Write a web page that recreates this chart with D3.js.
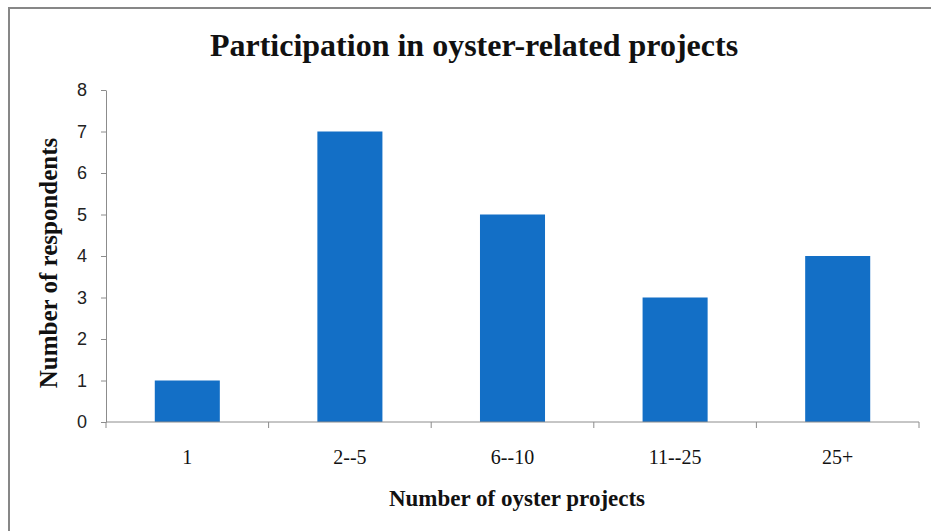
<!DOCTYPE html>
<html>
<head>
<meta charset="utf-8">
<script src="https://cdn.jsdelivr.net/npm/d3@7"></script>
<style>
  body { margin: 0; background: #fff; }
  svg { display: block; }
</style>
</head>
<body>
<div id="chart"></div>
<script>
// values
const categories = ['1', '2--5', '6--10', '11--25', '25+']
const respondents = [1, 7, 5, 3, 4]
const yTicks = [0, 1, 2, 3, 4, 5, 6, 7, 8]

let width = 931
let height = 531
let margin = {top: 90, right: 12, bottom: 109, left: 106}
const serif = '"Liberation Serif", "DejaVu Serif", serif'

const svg = d3.select('#chart').append('svg')
  .attr('width', width)
  .attr('height', height)

// outer frame (only top + left visible in the crop)
svg.append('path')
  .attr('d', `M9,${height + 5}V8H${width + 5}`)
  .attr('fill', 'none')
  .attr('stroke', '#878787')
  .attr('stroke-width', 2)

const x = d3.scaleBand()
  .domain(categories)
  .range([margin.left, width - margin.right])
  .paddingInner(0.6)
  .paddingOuter(0.3)

const y = d3.scaleLinear()
  .domain([0, 8])
  .range([height - margin.bottom, margin.top])

// bars
svg.append('g')
  .selectAll('rect')
  .data(respondents)
  .join('rect')
  .attr('x', (d, i) => x(categories[i]))
  .attr('y', d => y(d))
  .attr('width', x.bandwidth())
  .attr('height', d => y(0) - y(d))
  .attr('fill', '#136fc6')

// y axis
const yAxis = svg.append('g')
  .attr('transform', `translate(${margin.left},0)`)
  .call(d3.axisLeft(y).tickValues(yTicks).tickSize(5).tickSizeOuter(0).tickPadding(14))
yAxis.select('.domain').attr('stroke', '#8c8c8c')
yAxis.selectAll('.tick line').attr('stroke', '#8c8c8c')
yAxis.selectAll('.tick text')
  .attr('fill', '#222')
  .attr('font-family', '"Liberation Sans", Arial, sans-serif')
  .attr('font-size', 18)

// x axis, ticks on category boundaries like Excel
const xAxis = svg.append('g')
  .attr('transform', `translate(0,${y(0)})`)
  .call(d3.axisBottom(x).tickSize(0).tickPadding(28))
xAxis.select('.domain').remove()
xAxis.append('line')
  .attr('x1', margin.left).attr('x2', width - margin.right)
  .attr('stroke', '#8c8c8c')
const bounds = d3.range(categories.length + 1).map(i => margin.left + i * (width - margin.right - margin.left) / categories.length)
xAxis.selectAll('.bound')
  .data(bounds)
  .join('line')
  .attr('class', 'bound')
  .attr('x1', d => d).attr('x2', d => d)
  .attr('y1', 0).attr('y2', 6)
  .attr('stroke', '#8c8c8c')
xAxis.selectAll('.tick text')
  .attr('fill', '#111')
  .attr('font-family', serif)
  .attr('font-size', 20)

// titles
svg.append('text')
  .attr('x', 474)
  .attr('y', 56)
  .attr('text-anchor', 'middle')
  .attr('font-family', serif)
  .attr('font-weight', 'bold')
  .attr('font-size', 32)
  .attr('fill', '#111')
  .text('Participation in oyster-related projects')

svg.append('text')
  .attr('x', 517)
  .attr('y', 506)
  .attr('text-anchor', 'middle')
  .attr('font-family', serif)
  .attr('font-weight', 'bold')
  .attr('font-size', 23)
  .attr('fill', '#111')
  .text('Number of oyster projects')

svg.append('text')
  .attr('transform', 'translate(57,263) rotate(-90)')
  .attr('text-anchor', 'middle')
  .attr('font-family', serif)
  .attr('font-weight', 'bold')
  .attr('font-size', 25)
  .attr('fill', '#111')
  .text('Number of respondents')
</script>
</body>
</html>
